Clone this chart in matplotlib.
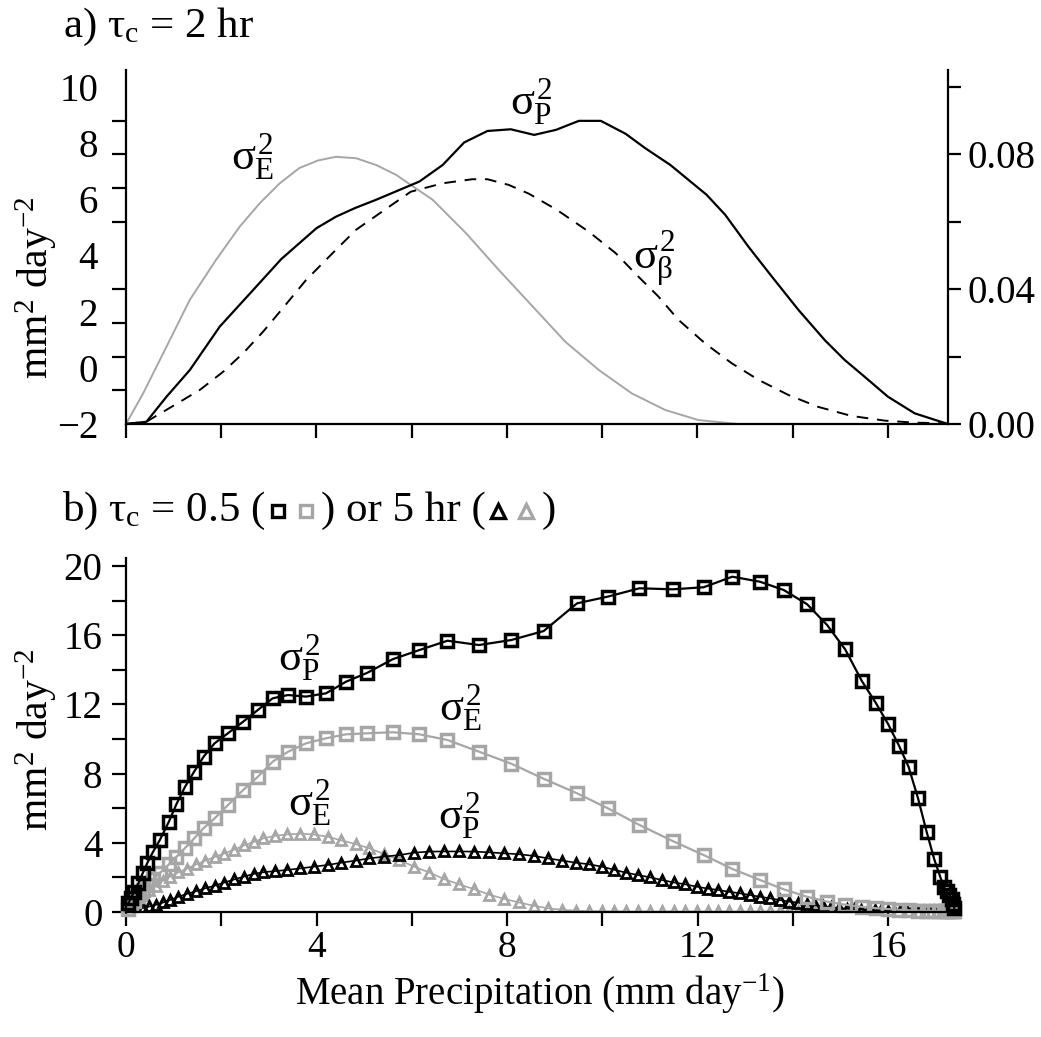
import matplotlib
matplotlib.use('Agg')
import matplotlib.pyplot as plt
from matplotlib.lines import Line2D
from matplotlib.offsetbox import TextArea, DrawingArea, HPacker, AnnotationBbox

plt.rcParams['font.family'] = ['Liberation Serif', 'DejaVu Serif']
plt.rcParams['mathtext.fontset'] = 'custom'
plt.rcParams['mathtext.rm'] = 'Liberation Serif'
plt.rcParams['mathtext.it'] = 'Liberation Serif'
plt.rcParams['mathtext.bf'] = 'Liberation Serif:bold'

GRAY = '#a6a6a6'
FS = 28

# Panel a) tau_c = 2 hr  (sigma_E^2, sigma_P^2 read against the left axis as labelled)
a_x_E = [0.0, 0.36, 0.85, 1.34, 1.89, 2.39, 2.81, 3.23, 3.64, 4.03, 4.41, 4.83, 5.25,
         5.67, 5.98, 6.44, 7.14, 7.83, 8.53, 9.23, 9.93, 10.62, 11.32, 12.02, 12.86]
a_E = [-2.0, -0.91, 0.75, 2.42, 3.84, 5.03, 5.86, 6.57, 7.11, 7.38, 7.51, 7.46, 7.22,
       6.87, 6.51, 5.98, 4.79, 3.48, 2.2, 0.92, -0.08, -0.91, -1.5, -1.86, -2.0]

a_x_P = [0.0, 0.43, 0.85, 1.34, 1.97, 2.67, 3.26, 4.0, 4.41, 4.8, 5.25, 5.74, 6.16, 6.65,
         7.1, 7.59, 8.08, 8.57, 9.03, 9.51, 9.97, 10.49, 10.9, 11.43, 11.81, 12.19, 12.58,
         13.07, 13.56, 14.12, 14.67, 15.09, 15.51, 16.0, 16.56, 17.22]
a_P = [-2.0, -1.92, -1.03, -0.08, 1.47, 2.77, 3.87, 4.97, 5.38, 5.68, 5.98, 6.33, 6.63, 7.22,
       8.02, 8.43, 8.49, 8.29, 8.47, 8.79, 8.79, 8.33, 7.82, 7.22, 6.69, 6.16, 5.45,
       4.31, 3.25, 2.06, 0.99, 0.28, -0.32, -1.03, -1.62, -1.98]

# sigma_beta^2 on the right axis
a_x_beta = [0.0, 0.43, 0.85, 1.55, 2.04, 2.46, 2.88, 3.26, 3.78, 4.34, 4.83, 5.53, 5.98,
            6.65, 7.27, 7.59, 8.04, 8.46, 9.05, 9.72, 10.28, 10.76, 11.18, 11.6, 12.16,
            12.72, 13.28, 13.91, 14.53, 15.23, 15.93, 16.56, 17.22]
a_beta = [0.0, 0.0007, 0.0042, 0.0101, 0.0155, 0.021, 0.0274, 0.0338, 0.0427, 0.0507,
          0.0576, 0.0645, 0.0689, 0.0714, 0.0726, 0.0726, 0.0709, 0.0683, 0.0635, 0.057,
          0.0507, 0.0437, 0.0378, 0.0309, 0.0239, 0.018, 0.0131, 0.0086, 0.0051, 0.0024,
          0.001, 0.0004, 0.0002]

# Panel b) squares: tau_c = 0.5 hr
b_x_sq = [0.05, 0.10, 0.17, 0.26, 0.35, 0.45, 0.57, 0.71, 0.90, 1.06, 1.24, 1.43, 1.63,
          1.86, 2.14, 2.46, 2.77, 3.08, 3.40, 3.78, 4.20, 4.62, 5.07, 5.60, 6.16, 6.75,
          7.41, 8.09, 8.77, 9.47, 10.12, 10.78, 11.48, 12.13, 12.73, 13.31, 13.81, 14.30,
          14.72, 15.10, 15.45, 15.74, 16.00, 16.23, 16.43, 16.63, 16.81, 16.97, 17.10,
          17.17, 17.23, 17.29, 17.34, 17.37, 17.39]
b_P_sq = [0.50, 0.79, 1.17, 1.66, 2.24, 2.85, 3.49, 4.16, 5.22, 6.24, 7.24, 8.11, 8.98,
          9.75, 10.33, 11.0, 11.68, 12.35, 12.54, 12.45, 12.64, 13.31, 13.83, 14.61, 15.14,
          15.68, 15.43, 15.72, 16.24, 17.84, 18.23, 18.71, 18.65, 18.77, 19.38, 19.09,
          18.61, 17.79, 16.59, 15.18, 13.35, 12.1, 10.87, 9.61, 8.4, 6.57, 4.64, 3.05,
          2.0, 1.45, 1.2, 0.98, 0.73, 0.45, 0.25]
b_E_sq = [0.2, 0.4, 0.65, 0.95, 1.25, 1.55, 1.9, 2.25, 2.75, 3.2, 3.7, 4.25, 4.85, 5.41,
          6.18, 7.05, 7.82, 8.69, 9.26, 9.75, 10.04, 10.27, 10.33, 10.39, 10.27, 9.94,
          9.27, 8.57, 7.7, 6.86, 5.99, 5.03, 4.10, 3.29, 2.49, 1.85, 1.31, 0.88, 0.60,
          0.42, 0.3, 0.22, 0.17, 0.13, 0.1, 0.08, 0.07, 0.06, 0.05, 0.05, 0.05, 0.04,
          0.04, 0.04, 0.04]

# Panel b) triangles: tau_c = 5 hr
b_x_tri = [0.10, 0.22, 0.35, 0.49, 0.63, 0.78, 0.93, 1.10, 1.28, 1.47, 1.66, 1.86, 2.06,
           2.27, 2.48, 2.68, 2.88, 3.12, 3.38, 3.66, 3.94, 4.24, 4.52, 4.82, 5.11, 5.42,
           5.74, 6.05, 6.37, 6.68, 6.99, 7.31, 7.62, 7.94, 8.25, 8.57, 8.86, 9.16, 9.44,
           9.72, 9.99, 10.24, 10.50, 10.75, 11.01, 11.25, 11.50, 11.74, 11.99, 12.22,
           12.44, 12.66, 12.89, 13.10, 13.31, 13.52, 13.73, 13.93, 14.12, 14.29, 14.47,
           14.64, 14.81, 14.97, 15.13, 15.28, 15.43, 15.58, 15.72, 15.86, 16.00, 16.13,
           16.26, 16.39, 16.51, 16.63, 16.75, 16.86, 16.97, 17.07, 17.16, 17.24]
b_P_tri = [0.10, 0.15, 0.22, 0.32, 0.42, 0.55, 0.70, 0.88, 1.05, 1.20, 1.37, 1.52, 1.70,
           1.88, 2.05, 2.20, 2.30, 2.36, 2.43, 2.52, 2.62, 2.72, 2.85, 2.97, 3.10, 3.20,
           3.29, 3.43, 3.49, 3.50, 3.50, 3.49, 3.45, 3.39, 3.34, 3.24, 3.10, 2.97, 2.85,
           2.76, 2.62, 2.45, 2.27, 2.14, 2.00, 1.85, 1.71, 1.60, 1.46, 1.35, 1.27, 1.17,
           1.08, 0.98, 0.88, 0.79, 0.69, 0.60, 0.54, 0.46, 0.39, 0.33, 0.27, 0.23, 0.19,
           0.16, 0.14, 0.12, 0.10, 0.09, 0.08, 0.07, 0.07, 0.06, 0.06, 0.05, 0.05, 0.05,
           0.05, 0.05, 0.05, 0.05]
b_E_tri = [0.55, 0.82, 1.00, 1.25, 1.52, 1.82, 2.05, 2.30, 2.50, 2.75, 2.96, 3.18, 3.38,
           3.60, 3.85, 4.05, 4.25, 4.40, 4.48, 4.53, 4.48, 4.35, 4.14, 3.93, 3.68, 3.35,
           3.00, 2.62, 2.28, 1.90, 1.60, 1.32, 1.01, 0.76, 0.55, 0.36, 0.21, 0.13, 0.08,
           0.05, 0.04, 0.04, 0.03, 0.03, 0.03, 0.03, 0.03, 0.03, 0.03, 0.03, 0.03, 0.03,
           0.03, 0.03, 0.03, 0.03, 0.03, 0.03, 0.03, 0.03, 0.03, 0.03, 0.03, 0.03, 0.03,
           0.03, 0.03, 0.03, 0.03, 0.03, 0.03, 0.03, 0.03, 0.03, 0.03, 0.03, 0.03, 0.03,
           0.03, 0.03, 0.03, 0.03]

a_left_labels = [-2, 0, 2, 4, 6, 8, 10]
a_left_ticks = [-2, -0.8, 0.4, 1.6, 2.8, 4.0, 5.2, 6.4, 7.6, 8.8, 10]
a_right_labels = [0.0, 0.04, 0.08]
a_right_minor = [0.02, 0.06, 0.10]
x_ticks = [0, 2, 4, 6, 8, 10, 12, 14, 16]
b_x_labels = [0, 4, 8, 12, 16]
b_y_ticks = [0, 2, 4, 6, 8, 10, 12, 14, 16, 18, 20]
b_y_labels = [0, 4, 8, 12, 16, 20]

W, H = 1041, 1037
fig = plt.figure(figsize=(W / 100, H / 100), dpi=100)

# ---------------- panel a ----------------
ax = fig.add_axes([126 / W, 1 - 424 / H, (948 - 126) / W, (424 - 70) / H])
ax.plot(a_x_E, a_E, color=GRAY, lw=1.4)
ax.plot(a_x_P, a_P, color='black', lw=1.6)
ax.set_xlim(0, 17.26)
ax.set_ylim(-2, 10.6)
ax.spines['top'].set_visible(False)
ax.spines['right'].set_visible(False)
for s in ('left', 'bottom'):
    ax.spines[s].set_linewidth(1.6)
ax.set_xticks(x_ticks)
ax.set_xticklabels([])
ax.tick_params(axis='x', direction='out', length=10, width=1.6)
ax.set_yticks(a_left_labels)
ax.set_yticklabels([str(v).replace('-', '\u2212') for v in a_left_labels], fontsize=FS)
ax.tick_params(axis='y', which='major', length=0, pad=20)
ax.set_yticks(a_left_ticks, minor=True)
ax.tick_params(axis='y', which='minor', direction='out', length=10, width=1.6)

axr = ax.twinx()
axr.plot(a_x_beta, a_beta, color='black', lw=1.4, dashes=(6, 4.5))
axr.set_ylim(0, 0.105)
for s in ('top', 'left', 'bottom'):
    axr.spines[s].set_visible(False)
axr.spines['right'].set_linewidth(1.6)
axr.set_yticks(a_right_labels)
axr.set_yticklabels(['%.2f' % v for v in a_right_labels], fontsize=FS)
axr.set_yticks(a_right_minor, minor=True)
axr.tick_params(axis='y', which='both', direction='out', length=9, width=1.6, pad=5)

LS = 32
ax.text(2.65, 7.5, r'$\sigma_{E}^{2}$', fontsize=LS, ha='center', va='center')
ax.text(8.51, 9.46, r'$\sigma_{P}^{2}$', fontsize=LS, ha='center', va='center')
ax.text(11.09, 3.9, r'$\sigma_{\beta}^{2}$', fontsize=LS, ha='center', va='center')

fig.text(63 / W, 1 - 37 / H, r'a) $\tau_{c}$ = 2 hr', fontsize=31, va='baseline')
fig.text(36 / W, 1 - 288 / H, r'mm$^{2}$ day$^{-2}$', fontsize=30, rotation=90,
         ha='center', va='center')

# ---------------- panel b ----------------
bx = fig.add_axes([126 / W, 1 - 912 / H, (959 - 126) / W, (912 - 558) / H])
bx.plot(b_x_tri, b_E_tri, color=GRAY, lw=1.2, marker='^', ms=7.5, mfc='none',
        mec=GRAY, mew=2.0)
bx.plot(b_x_tri, b_P_tri, color='black', lw=1.2, marker='^', ms=7.5, mfc='none',
        mec='black', mew=2.0)
bx.plot(b_x_sq, b_E_sq, color=GRAY, lw=1.6, marker='s', ms=8.5, mfc='none',
        mec=GRAY, mew=2.5, clip_on=False)
bx.plot(b_x_sq, b_P_sq, color='black', lw=1.6, marker='s', ms=8.5, mfc='none',
        mec='black', mew=2.5, clip_on=False)
bx.set_xlim(0, 17.49)
bx.set_ylim(0, 20.46)
bx.spines['top'].set_visible(False)
bx.spines['right'].set_visible(False)
for s in ('left', 'bottom'):
    bx.spines[s].set_linewidth(1.6)
bx.set_xticks(b_x_labels)
bx.set_xticklabels([str(v) for v in b_x_labels], fontsize=27)
bx.set_xticks(x_ticks, minor=True)
bx.tick_params(axis='x', which='both', direction='out', length=10, width=1.6, pad=3)
bx.set_yticks(b_y_labels)
bx.set_yticklabels([str(v) for v in b_y_labels], fontsize=FS)
bx.set_yticks(b_y_ticks, minor=True)
bx.tick_params(axis='y', which='both', direction='out', length=10, width=1.6, pad=7)

bx.text(3.64, 14.68, r'$\sigma_{P}^{2}$', fontsize=LS, ha='center', va='center')
bx.text(7.03, 11.77, r'$\sigma_{E}^{2}$', fontsize=LS, ha='center', va='center')
bx.text(3.85, 6.28, r'$\sigma_{E}^{2}$', fontsize=LS, ha='center', va='center')
bx.text(6.99, 5.51, r'$\sigma_{P}^{2}$', fontsize=LS, ha='center', va='center')

fig.text(36 / W, 1 - 740 / H, r'mm$^{2}$ day$^{-2}$', fontsize=30, rotation=90,
         ha='center', va='center')
fig.text(540 / W, 1 - 994 / H, r'Mean Precipitation (mm day$^{-1}$)', fontsize=28,
         ha='center', va='center')


# title of panel b with the marker keys
def marker_pair(marker, ms):
    da = DrawingArea(40, 18, 0, 0)
    da.add_artist(Line2D([9], [7], marker=marker, ms=ms, mfc='none', mec='black',
                         mew=2.4, ls='none'))
    da.add_artist(Line2D([29], [7], marker=marker, ms=ms, mfc='none', mec=GRAY,
                         mew=2.4, ls='none'))
    return da


parts = [TextArea(r'b) $\tau_{c}$ = 0.5 (', textprops=dict(fontsize=31)),
         marker_pair('s', 8.5),
         TextArea(') or 5 hr (', textprops=dict(fontsize=31)),
         marker_pair('^', 9.5),
         TextArea(')', textprops=dict(fontsize=31))]
hp = HPacker(children=parts, align='baseline', pad=0, sep=0)
ab = AnnotationBbox(hp, (62 / W, 1 - 532 / H), xycoords='figure fraction',
                    box_alignment=(0, 0), frameon=False, pad=0)
fig.add_artist(ab)

fig.savefig('out.png', dpi=100, facecolor='white')
